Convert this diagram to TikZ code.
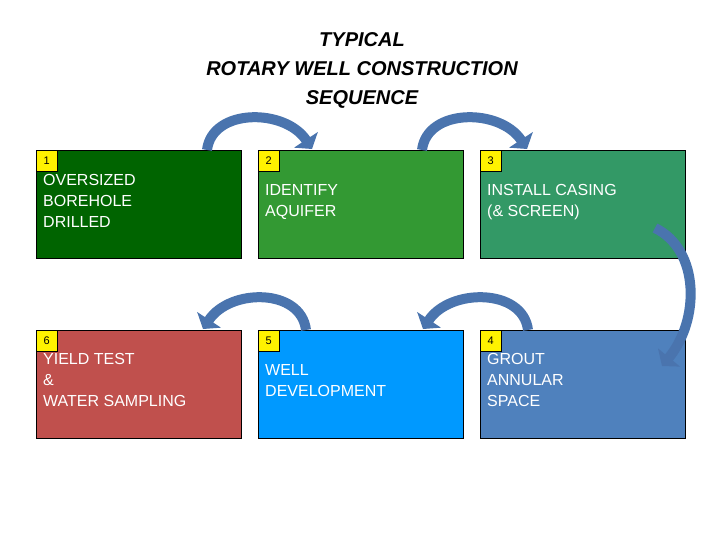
\documentclass[tikz,border=0pt]{standalone}
\usepackage{fontspec}
\setmainfont{Liberation Sans}
\usetikzlibrary{arrows.meta,positioning}
\definecolor{stepA}{HTML}{006400}
\definecolor{stepB}{HTML}{339933}
\definecolor{stepC}{HTML}{339966}
\definecolor{stepD}{HTML}{4F81BD}
\definecolor{stepE}{HTML}{0099FF}
\definecolor{stepF}{HTML}{C0504D}
\definecolor{bend}{HTML}{4A74AE}
\tikzset{
  stage/.style={draw=black, minimum width=205pt, minimum height=108pt, inner sep=0pt, anchor=north west},
  stagetag/.style={draw=black, fill=yellow, minimum size=21pt, inner sep=0pt, anchor=north west, font=\fontsize{11}{12}\selectfont, text depth=0pt},
  stagetext/.style={anchor=north west, text=white, align=left, inner sep=0pt, font=\fontsize{16}{21}\selectfont},
  bendarrow/.style={draw=bend, line width=10pt, -{Triangle[length=11pt,width=28pt]}}
}
\begin{document}
\begin{tikzpicture}[x=1pt,y=-1pt]
    \useasboundingbox (0,0) rectangle (720,540);

    \node[align=center, font=\fontsize{20}{29}\selectfont\bfseries\itshape] (title) at (362,70)
        {TYPICAL\\ROTARY WELL CONSTRUCTION\\SEQUENCE};

    \node [stage, fill=stepA] (s1) at (36,150) {};
    \node [stage, fill=stepB] (s2) at (258,150) {};
    \node [stage, fill=stepC] (s3) at (480,150) {};
    \node [stage, fill=stepF] (s6) at (36,330) {};
    \node [stage, fill=stepE] (s5) at (258,330) {};
    \node [stage, fill=stepD] (s4) at (480,330) {};

    \node [stagetag] (t1) at (s1.north west) {1};
    \node [stagetag] (t2) at (s2.north west) {2};
    \node [stagetag] (t3) at (s3.north west) {3};
    \node [stagetag] (t4) at (s4.north west) {4};
    \node [stagetag] (t5) at (s5.north west) {5};
    \node [stagetag] (t6) at (s6.north west) {6};

    \node [stagetext] (l1) at (43,174) {OVERSIZED\\BOREHOLE\\DRILLED};
    \node [stagetext] (l2) at (265,184) {IDENTIFY\\AQUIFER};
    \node [stagetext] (l3) at (487,184) {INSTALL CASING\\(\& SCREEN)};
    \node [stagetext] (l6) at (43,353) {YIELD TEST\\\&\\WATER SAMPLING};
    \node [stagetext] (l5) at (265,364) {WELL\\DEVELOPMENT};
    \node [stagetext] (l4) at (487,353) {GROUT\\ANNULAR\\SPACE};

    \coordinate (a1) at (207,150);
    \coordinate (b1) at (312,149);
    \coordinate (a2) at (422,150);
    \coordinate (b2) at (527,149);
    \coordinate (a3) at (655,228);
    \coordinate (b3) at (662,366);
    \coordinate (a4) at (528,330);
    \coordinate (b4) at (423,329);
    \coordinate (a5) at (306,330);
    \coordinate (b5) at (203,329);

    \draw[bendarrow] (a1) .. controls (212,108) and (285,108) .. (b1);
    \draw[bendarrow] (a2) .. controls (427,108) and (500,108) .. (b2);
    \draw[bendarrow] (a3) .. controls (700,250) and (700,320) .. (b3);
    \draw[bendarrow] (a4) .. controls (523,288) and (450,288) .. (b4);
    \draw[bendarrow] (a5) .. controls (301,288) and (230,288) .. (b5);

\end{tikzpicture}
\end{document}
